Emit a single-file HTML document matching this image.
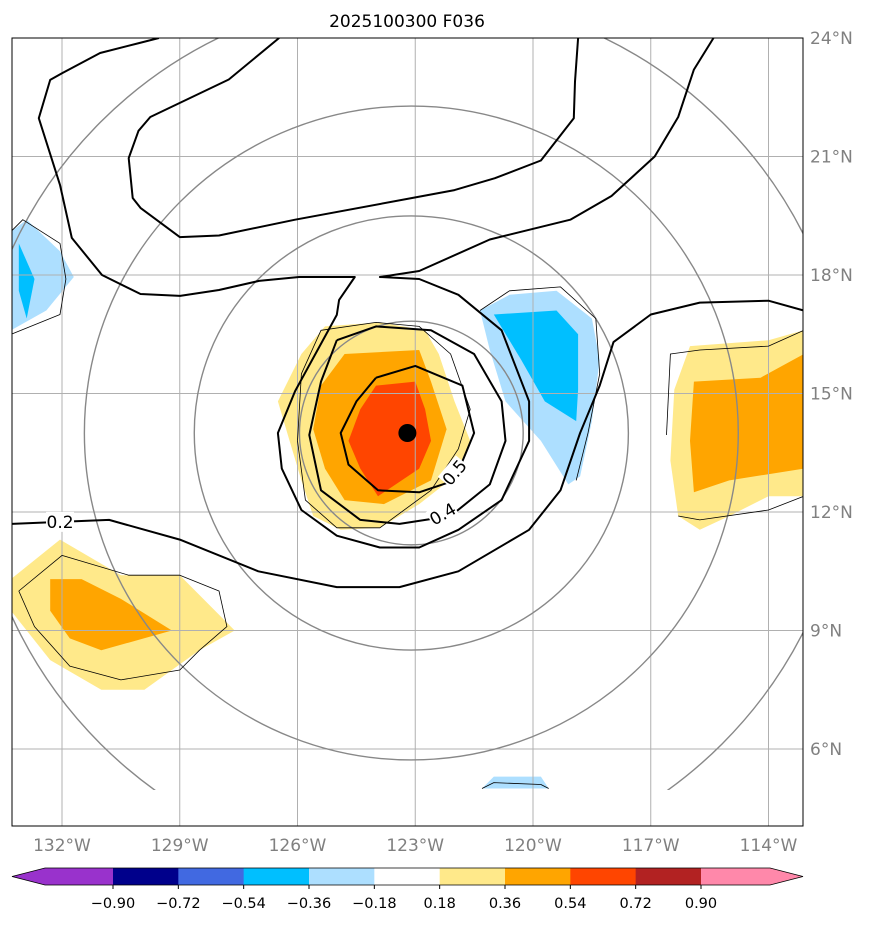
<!DOCTYPE html>
<html><head><meta charset="utf-8">
<style>
body{margin:0;background:#fff;width:873px;height:924px;overflow:hidden;font-family:"Liberation Sans","DejaVu Sans",sans-serif}
svg text{font-family:"DejaVu Sans","Liberation Sans",sans-serif}
</style></head>
<body>
<svg id="chart" width="873" height="924" xmlns="http://www.w3.org/2000/svg">
<text x="407" y="27" text-anchor="middle" font-size="17">2025100300 F036</text>
<defs><clipPath id="clip"><rect x="12" y="38" width="791" height="752"/></clipPath><clipPath id="clipAll"><rect x="12" y="38" width="791" height="788"/></clipPath></defs>
<g id="fills" clip-path="url(#clip)"></g>
<g id="grid" clip-path="url(#clipAll)"></g>
<g id="lines" clip-path="url(#clip)"></g>
<rect x="12" y="38" width="791" height="788" fill="none" stroke="#000" stroke-width="1"/>
<g id="axes"></g>
<g id="cbar"></g>
</svg>
<script>
const lonTicks=[-132,-129,-126,-123,-120,-117,-114];
const latTicks=[6,9,12,15,18,21,24];
const cbLevels=[-0.90,-0.72,-0.54,-0.36,-0.18,0.18,0.36,0.54,0.72,0.90];
const cbColors=['#9932CC','#00008B','#4169E1','#00BFFF','#ADDFFF','#FFFFFF','#FFE98A','#FFA500','#FF4500','#B22222','#FF88AA'];
const stormCenter=[-123.2,14.0];
const circleRadii=[2.85,5.53,8.33,11.2];
const circleCenter=[-123.1,14.0];
const yellowCentral=[[-125.9,16.0],[-125.3,16.7],[-123.9,16.8],[-122.75,16.6],[-122.4,16.0],[-122.0,14.8],[-121.6,13.8],[-122.0,12.9],[-122.9,12.2],[-123.9,11.6],[-124.9,11.55],[-125.6,11.9],[-125.9,12.8],[-126.2,13.8],[-126.5,14.8]];
const orangeCentral=[[-124.8,16.0],[-122.9,16.1],[-122.6,15.3],[-122.2,14.1],[-122.6,12.8],[-123.8,12.2],[-124.8,12.3],[-125.3,13.1],[-125.6,14.1],[-125.4,15.2]];
const redCentral=[[-124.0,15.2],[-123.0,15.3],[-122.75,14.6],[-122.6,13.8],[-122.9,13.1],[-123.95,12.4],[-124.4,13.1],[-124.7,13.8],[-124.4,14.6]];
const yellowRight=[[-116.0,16.2],[-114.0,16.35],[-113.1,16.6],[-113.1,12.4],[-114.0,12.4],[-115.0,11.9],[-115.75,11.55],[-116.3,11.9],[-116.5,13.3],[-116.4,15.1]];
const orangeRight=[[-115.9,15.3],[-114.2,15.4],[-113.1,16.0],[-113.1,13.1],[-115.0,12.8],[-115.9,12.5],[-116.0,13.8]];
const yellowSW=[[-133.3,10.3],[-132.05,11.3],[-130.5,10.4],[-129.0,10.4],[-128.1,9.5],[-127.6,9.0],[-128.5,8.5],[-129.9,7.5],[-131.0,7.5],[-132.3,8.25],[-133.3,9.5]];
const orangeSW=[[-132.3,10.3],[-131.5,10.3],[-130.5,9.8],[-129.2,9.0],[-131.0,8.5],[-131.8,8.8],[-132.3,9.5]];
const lblueW=[[-133.3,19.1],[-132.9,19.4],[-132.05,18.6],[-131.7,17.95],[-132.4,17.1],[-133.3,16.6]];
const dblueW=[[-133.1,18.8],[-132.7,17.9],[-132.9,16.9],[-133.1,17.6]];
const lblueE=[[-121.35,17.1],[-120.6,17.5],[-119.4,17.6],[-118.5,16.9],[-118.3,15.85],[-118.5,14.3],[-118.8,12.9],[-119.1,12.7],[-119.8,13.8],[-120.7,14.8],[-121.1,16.1]];
const dblueE=[[-121.0,17.0],[-119.4,17.1],[-118.85,16.5],[-118.85,15.1],[-118.9,14.3],[-119.7,14.8],[-120.3,15.85]];
const lblueS=[[-121.3,5.0],[-121.0,5.3],[-119.8,5.3],[-119.6,5.0]];
const c05=[[-124.0,15.4],[-123.0,15.7],[-121.8,15.2],[-121.5,14.0],[-122.0,12.8],[-122.9,12.5],[-123.95,12.55],[-124.7,13.2],[-124.9,14.0],[-124.5,14.8],[-124.0,15.4]];
const c04=[[-125.0,16.35],[-124.0,16.7],[-122.6,16.6],[-121.5,16.0],[-120.8,14.8],[-120.7,13.8],[-121.1,12.7],[-122.1,11.9],[-123.4,11.7],[-124.4,11.8],[-125.4,12.55],[-125.7,13.95],[-125.4,15.3],[-125.0,16.35]];
const c03=[[-129.53,24.0],[-130.04,23.87],[-131.03,23.62],[-132.0,23.11],[-132.3,22.94],[-132.59,21.97],[-132.05,20.28],[-131.75,18.94],[-130.98,18.0],[-130.0,17.52],[-128.99,17.47],[-128.0,17.62],[-126.98,17.85],[-125.96,17.95],[-124.54,17.95],[-124.94,17.37],[-125.0,16.99],[-126.06,15.06],[-126.5,14.0],[-126.4,13.1],[-125.9,12.05],[-125.0,11.4],[-123.9,11.1],[-122.9,11.1],[-121.9,11.55],[-120.8,12.3],[-120.1,13.8],[-120.1,14.8],[-120.8,16.6],[-121.9,17.5],[-122.9,17.9],[-123.9,17.95],[-122.9,18.1],[-121.1,18.9],[-119.05,19.4],[-118.0,20.0],[-116.9,21.0],[-116.3,22.0],[-115.9,23.2],[-115.4,24.0]];
const c02=[[-133.3,11.7],[-132.05,11.75],[-130.8,11.8],[-129.0,11.3],[-127.0,10.5],[-125.0,10.1],[-123.4,10.1],[-121.9,10.5],[-120.1,11.55],[-119.3,12.55],[-118.8,14.0],[-118.3,15.2],[-117.95,16.3],[-117.0,17.0],[-115.75,17.3],[-114.0,17.35],[-113.1,17.1]];
const cN1=[[-126.47,24.0],[-127.75,22.95],[-129.75,22.0],[-130.05,21.65],[-130.3,20.96],[-130.2,19.95],[-130.0,19.7],[-129.0,18.96],[-128.0,19.0],[-126.06,19.4],[-123.08,19.95],[-122.0,20.15],[-120.97,20.45],[-119.8,20.9],[-118.96,21.97],[-118.93,22.9],[-118.85,24.0]];
const cN2=[[-113.1,22.3],[-113.1,22.0]];
const thinC=[[-126.0,13.8],[-125.9,15.5],[-125.4,16.6],[-124.0,16.8],[-122.9,16.7],[-122.1,16.0],[-121.6,14.6],[-121.9,13.6],[-122.6,12.55],[-123.9,11.6],[-125.0,11.6],[-125.8,12.3],[-126.0,13.8]];
const thinR1=[[-116.6,13.95],[-116.5,16.0],[-115.75,16.1],[-114.0,16.2],[-113.1,16.6]];
const thinR2=[[-116.3,11.9],[-115.75,11.8],[-114.0,12.05],[-113.1,12.4]];
const thinSW=[[-133.1,10.0],[-132.0,10.9],[-130.3,10.4],[-129.0,10.4],[-128.0,10.0],[-127.8,9.1],[-128.5,8.5],[-129.0,8.0],[-130.5,7.75],[-131.8,8.1],[-132.7,9.1],[-133.1,10.0]];
const thinW=[[-133.3,19.1],[-133.0,19.4],[-132.05,18.8],[-131.9,17.9],[-132.05,17.0],[-133.3,16.5]];
const thinE=[[-121.35,17.1],[-120.6,17.6],[-119.3,17.7],[-118.4,16.9],[-118.3,15.5],[-118.6,14.0],[-118.9,12.8]];
const thinS=[[-121.3,5.0],[-121.0,5.15],[-119.8,5.1],[-119.6,5.0]];

const X0=62,XS=39.25,Y0=38,YS=39.5;
function xs(lon){return X0+(lon+132)*XS;}
function ys(lat){return Y0+(24-lat)*YS;}
const NS='http://www.w3.org/2000/svg';
function mk(tag,attrs,parent){const e=document.createElementNS(NS,tag);for(const k in attrs)e.setAttribute(k,attrs[k]);parent.appendChild(e);return e;}
function pts(a){return a.map(p=>xs(p[0]).toFixed(1)+','+ys(p[1]).toFixed(1)).join(' ');}
const fills=document.getElementById('fills'),lines=document.getElementById('lines'),grid=document.getElementById('grid'),axes=document.getElementById('axes'),cbar=document.getElementById('cbar');

function poly(a,fill,name){const e=mk('polygon',{points:pts(a),fill:fill,stroke:'none'},fills);

}
poly(yellowCentral,cbColors[6],'fill-central-yellow');
poly(orangeCentral,cbColors[7],'fill-central-orange');
poly(redCentral,cbColors[8],'fill-central-red');
poly(yellowRight,cbColors[6],'fill-east-yellow');
poly(orangeRight,cbColors[7],'fill-east-orange');
poly(yellowSW,cbColors[6],'fill-southwest-yellow');
poly(orangeSW,cbColors[7],'fill-southwest-orange');
poly(lblueW,cbColors[4],'fill-west-lightblue');
poly(dblueW,cbColors[3],'fill-west-blue');
poly(lblueE,cbColors[4],'fill-northeast-lightblue');
poly(dblueE,cbColors[3],'fill-northeast-blue');
poly(lblueS,cbColors[4],'fill-south-lightblue');

lonTicks.forEach(l=>{const e=mk('line',{x1:xs(l),x2:xs(l),y1:38,y2:826,stroke:'#b0b0b0','stroke-width':1},grid);

});
latTicks.forEach(l=>{const e=mk('line',{x1:12,x2:803,y1:ys(l),y2:ys(l),stroke:'#b0b0b0','stroke-width':1},grid);

});

circleRadii.forEach(r=>{const e=mk('ellipse',{cx:xs(circleCenter[0]),cy:ys(circleCenter[1]),rx:r*XS,ry:r*XS,fill:'none',stroke:'#888','stroke-width':1.4},lines);

});

function pl(a,w,name){const e=mk('polyline',{points:pts(a),fill:'none',stroke:'#000','stroke-width':w,'stroke-linejoin':'round'},lines);

}
[thinC,thinR1,thinR2,thinSW,thinW,thinE,thinS].forEach(a=>pl(a,0.8,'thin-contour'));
pl(c05,2,'contour-0.5');pl(c04,2,'contour-0.4');pl(c03,2,'contour-0.3');pl(c02,2,'contour-0.2');pl(cN1,2,'contour-north');pl(cN2,2,'contour-northeast');

function clabel(txt,lon,lat,rot,name){const g=mk('g',{transform:`translate(${xs(lon)},${ys(lat)}) rotate(${rot})`},lines);


mk('rect',{x:-14,y:-10,width:28,height:20,fill:'#fff'},g);
const t=mk('text',{x:0,y:6,'text-anchor':'middle','font-size':17},g);t.textContent=txt;}
clabel('0.2',-132.05,11.75,0,'contour-label-0.2');
clabel('0.4',-122.3,11.95,-30,'contour-label-0.4');
clabel('0.5',-122.0,13.0,-50,'contour-label-0.5');

const dot=mk('circle',{cx:xs(stormCenter[0]),cy:ys(stormCenter[1]),r:9,fill:'#000'},lines);



lonTicks.forEach(l=>{const t=mk('text',{x:xs(l),y:851,'text-anchor':'middle','font-size':17,fill:'#808080'},axes);t.textContent=Math.abs(l)+'°W';

});
latTicks.forEach(l=>{const t=mk('text',{x:810,y:ys(l)+6,'font-size':17,fill:'#808080'},axes);t.textContent=l+'°N';

});

const cbY=868,cbH=17;
function cbx(i){return 113+i*(701-113)/(cbLevels.length-1);}
const tl=mk('polygon',{points:`12,${cbY+cbH/2} 45,${cbY} 113,${cbY} 113,${cbY+cbH} 45,${cbY+cbH}`,fill:cbColors[0]},cbar);


for(let i=0;i<cbLevels.length-1;i++){const r=mk('rect',{x:cbx(i),y:cbY,width:cbx(i+1)-cbx(i)+0.5,height:cbH,fill:cbColors[i+1]},cbar);

}
const tr=mk('polygon',{points:`${cbx(cbLevels.length-1)},${cbY} 770,${cbY} 803,${cbY+cbH/2} 770,${cbY+cbH} ${cbx(cbLevels.length-1)},${cbY+cbH}`,fill:cbColors[cbColors.length-1]},cbar);


mk('polygon',{points:`12,${cbY+cbH/2} 45,${cbY} 770,${cbY} 803,${cbY+cbH/2} 770,${cbY+cbH} 45,${cbY+cbH}`,fill:'none',stroke:'#000','stroke-width':0.8},cbar);
cbLevels.forEach((v,i)=>{mk('line',{x1:cbx(i),x2:cbx(i),y1:cbY+cbH,y2:cbY+cbH+4,stroke:'#000'},cbar);
const t=mk('text',{x:cbx(i),y:908,'text-anchor':'middle','font-size':14.5},cbar);t.textContent=(v<0?'\u2212':'')+Math.abs(v).toFixed(2);

});
</script>
</body></html>
